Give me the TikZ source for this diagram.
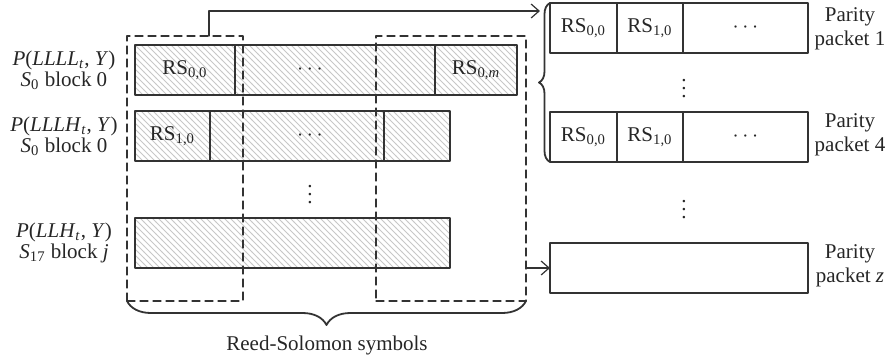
\documentclass[tikz,border=0pt]{standalone}
\usepackage{fontspec}
\setmainfont{Liberation Serif}
\usepackage{tikz}
\usetikzlibrary{positioning}
\usetikzlibrary{patterns}
\usetikzlibrary{arrows.meta}
\usetikzlibrary{decorations.pathreplacing}

\begin{document}
\begin{tikzpicture}[line cap=round,line join=round,>={Straight Barb[length=4pt,width=7pt]},x=0.5pt,y=-0.5pt,
    font=\fontsize{10.5}{12}\selectfont, every node/.style={text=black!85},
    cell/.style={draw=black!80, line width=0.6pt, inner sep=0pt, outer sep=0pt, minimum height=25pt},
    hatched/.style={cell, pattern=north west lines, pattern color=black!22},
    dashbox/.style={draw=black!80, line width=0.6pt, dash pattern=on 4pt off 2.5pt, inner sep=0pt, outer sep=0pt, minimum height=132.5pt},
    dots/.style={inner sep=0pt},
    lab/.style={align=center, font=\fontsize{10.5}{9.5}\selectfont},
    plab/.style={align=center, font=\fontsize{10.5}{12}\selectfont},
    conn/.style={draw=black!80, line width=0.6pt}]
                    \useasboundingbox (0,0) rectangle (890,360);

                    % source rows
                    \node[hatched, minimum width=50pt, anchor=north west] (r1a) at (135,45) {RS\textsubscript{0,0}};
                    \node[hatched, minimum width=100pt, right=0pt of r1a] (r1b) {};
                    \node[hatched, minimum width=41pt, right=0pt of r1b] (r1c) {RS\textsubscript{0,\textit{m}}};

                    \node[hatched, minimum width=37.5pt, anchor=north west] (r2a) at (135,111) {RS\textsubscript{1,0}};
                    \node[hatched, minimum width=87pt, right=0pt of r2a] (r2b) {};
                    \node[hatched, minimum width=33pt, right=0pt of r2b] (r2c) {};

                    \node[hatched, minimum width=157.5pt, anchor=north west] (r3) at (135,218) {};

                    \node[dots] (d1) at (310,70) {$\cdots$};
                    \node[dots] (d2) at (310,136) {$\cdots$};
                    \node[dots] (d3) at (310,189) {$\vdots$};

                    \node[lab] (l1) at (64,70) {\textit{P}(\textit{LLLL}\textsubscript{\textit{t}}, \textit{Y})\\\textit{S}\textsubscript{0} block 0};
                    \node[lab] (l2) at (64,136) {\textit{P}(\textit{LLLH}\textsubscript{\textit{t}}, \textit{Y})\\\textit{S}\textsubscript{0} block 0};
                    \node[lab] (l3) at (64,243) {\textit{P}(\textit{LLH}\textsubscript{\textit{t}}, \textit{Y})\\\textit{S}\textsubscript{17} block \textit{j}};

                    \node[dashbox, minimum width=58pt, anchor=north west] (dashL) at (127,36) {};
                    \node[dashbox, minimum width=75pt, anchor=north west] (dashR) at (376,36) {};

                    \draw[conn, line width=0.9pt, decorate, decoration={brace, mirror, amplitude=12pt}] (dashL.south west) -- (dashR.south east);
                    \node (rs) at (327,345) {Reed-Solomon symbols};

                    % parity packets
                    \node[cell, minimum width=33.5pt, anchor=north west] (p1a) at (550,3) {RS\textsubscript{0,0}};
                    \node[cell, minimum width=33pt, right=0pt of p1a] (p1b) {RS\textsubscript{1,0}};
                    \node[cell, minimum width=62.5pt, right=0pt of p1b] (p1c) {$\cdots$};

                    \node[cell, minimum width=33.5pt, anchor=north west] (p4a) at (550,112) {RS\textsubscript{0,0}};
                    \node[cell, minimum width=33pt, right=0pt of p4a] (p4b) {RS\textsubscript{1,0}};
                    \node[cell, minimum width=62.5pt, right=0pt of p4b] (p4c) {$\cdots$};

                    \node[cell, minimum width=129pt, anchor=north west] (pz) at (550,243) {};

                    \node[dots] (d4) at (684,83) {$\vdots$};
                    \node[dots] (d5) at (684,204) {$\vdots$};

                    \node[plab] (t1) at (850,29) {Parity\\packet 1};
                    \node[plab] (t4) at (850,135) {Parity\\packet 4};
                    \node[plab] (tz) at (850,266) {Parity\\packet \textit{z}};

                    \draw[conn, line width=0.9pt, decorate, decoration={brace, amplitude=5.5pt}] (p4a.south west) -- (p1a.north west);

                    \coordinate (brtop) at (540,11);
                    \draw[conn, ->] ([xshift=12pt]dashL.north) |- (brtop);
                    \draw[conn, ->] (dashR.east |- pz.west) -- (pz.west);
                \end{tikzpicture}
\end{document}
